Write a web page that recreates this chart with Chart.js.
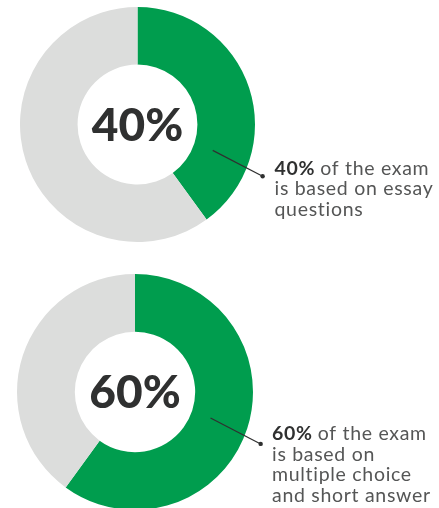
<!DOCTYPE html>
<html>
<head>
<meta charset="utf-8">
<script src="https://cdn.jsdelivr.net/npm/chart.js@4.4.1/dist/chart.umd.min.js"></script>
<style>
  html, body { margin: 0; padding: 0; background: #fff; overflow: hidden; }
  #wrap { position: relative; width: 439px; height: 508px; }
  canvas { position: absolute; left: 0; }
</style>
</head>
<body>
<div id="wrap">
  <canvas id="chartEssay" width="439" height="254" style="top:0"></canvas>
  <canvas id="chartChoice" width="439" height="262" style="top:254px"></canvas>
</div>
<script>
// share of the exam for each question type
var essayShare = [40, 60];
var choiceShare = [60, 40];
var segmentLabels = ['Part', 'Rest'];
var essayCaption = ['of the exam', 'is based on essay', 'questions'];
var choiceCaption = ['of the exam', 'is based on', 'multiple choice', 'and short answer'];

var GREEN = '#009d4e';
var GREY = '#dcdddc';

// draws the big number in the hole and the caption with its pointer line
var calloutPlugin = {
  id: 'callout',
  afterDraw: function (chart, args, opts) {
    var arc = chart.getDatasetMeta(0).data[0];
    var cx = arc.x, cy = arc.y, R = arc.outerRadius;
    var value = chart.data.datasets[0].data[0] + '%';
    var ctx = chart.ctx;
    ctx.save();

    ctx.fillStyle = '#2f3030';
    ctx.font = '900 46px Lato';
    ctx.textAlign = 'center';
    ctx.textBaseline = 'alphabetic';
    ctx.fillText(value, cx, cy + 16);

    // pointer from inside the green ring out to the caption
    var sx = cx + R * 0.64, sy = cy + R * 0.22;
    var ex = cx + R * 1.065, ey = cy + R * 0.44;
    ctx.strokeStyle = '#2f3030';
    ctx.lineWidth = 1.2;
    ctx.beginPath();
    ctx.moveTo(sx, sy);
    ctx.lineTo(ex, ey);
    ctx.stroke();
    ctx.beginPath();
    ctx.arc(ex, ey, 2.2, 0, Math.PI * 2);
    ctx.fillStyle = '#2f3030';
    ctx.fill();

    var tx = cx + 137, ty = cy + opts.firstLine;
    ctx.textAlign = 'left';
    ctx.letterSpacing = '0.7px';
    ctx.font = 'bold 19.5px Lato';
    ctx.fillStyle = '#2f3030';
    ctx.fillText(value, tx, ty);
    var w = ctx.measureText(value).width + 5;
    ctx.font = '19.5px Lato';
    ctx.fillStyle = '#555656';
    ctx.fillText(opts.lines[0], tx + w, ty);
    for (var i = 1; i < opts.lines.length; i++) {
      ctx.fillText(opts.lines[i], tx, ty + i * 20.7);
    }
    ctx.restore();
  }
};

function makeDonut(id, values, caption, padding, firstLine) {
  return new Chart(document.getElementById(id), {
    type: 'doughnut',
    data: {
      labels: segmentLabels,
      datasets: [{
        data: values,
        backgroundColor: [GREEN, GREY],
        borderWidth: 0
      }]
    },
    options: {
      responsive: false,
      animation: false,
      cutout: '51%',
      layout: { padding: padding },
      plugins: {
        legend: { display: false },
        tooltip: { enabled: false },
        callout: { lines: caption, firstLine: firstLine }
      }
    },
    plugins: [calloutPlugin]
  });
}

makeDonut('chartEssay', essayShare, essayCaption, { left: 20, right: 184, top: 7, bottom: 12 }, 50);
makeDonut('chartChoice', choiceShare, choiceCaption, { left: 17, right: 186, top: 20, bottom: 6 }, 48);
</script>
</body>
</html>
